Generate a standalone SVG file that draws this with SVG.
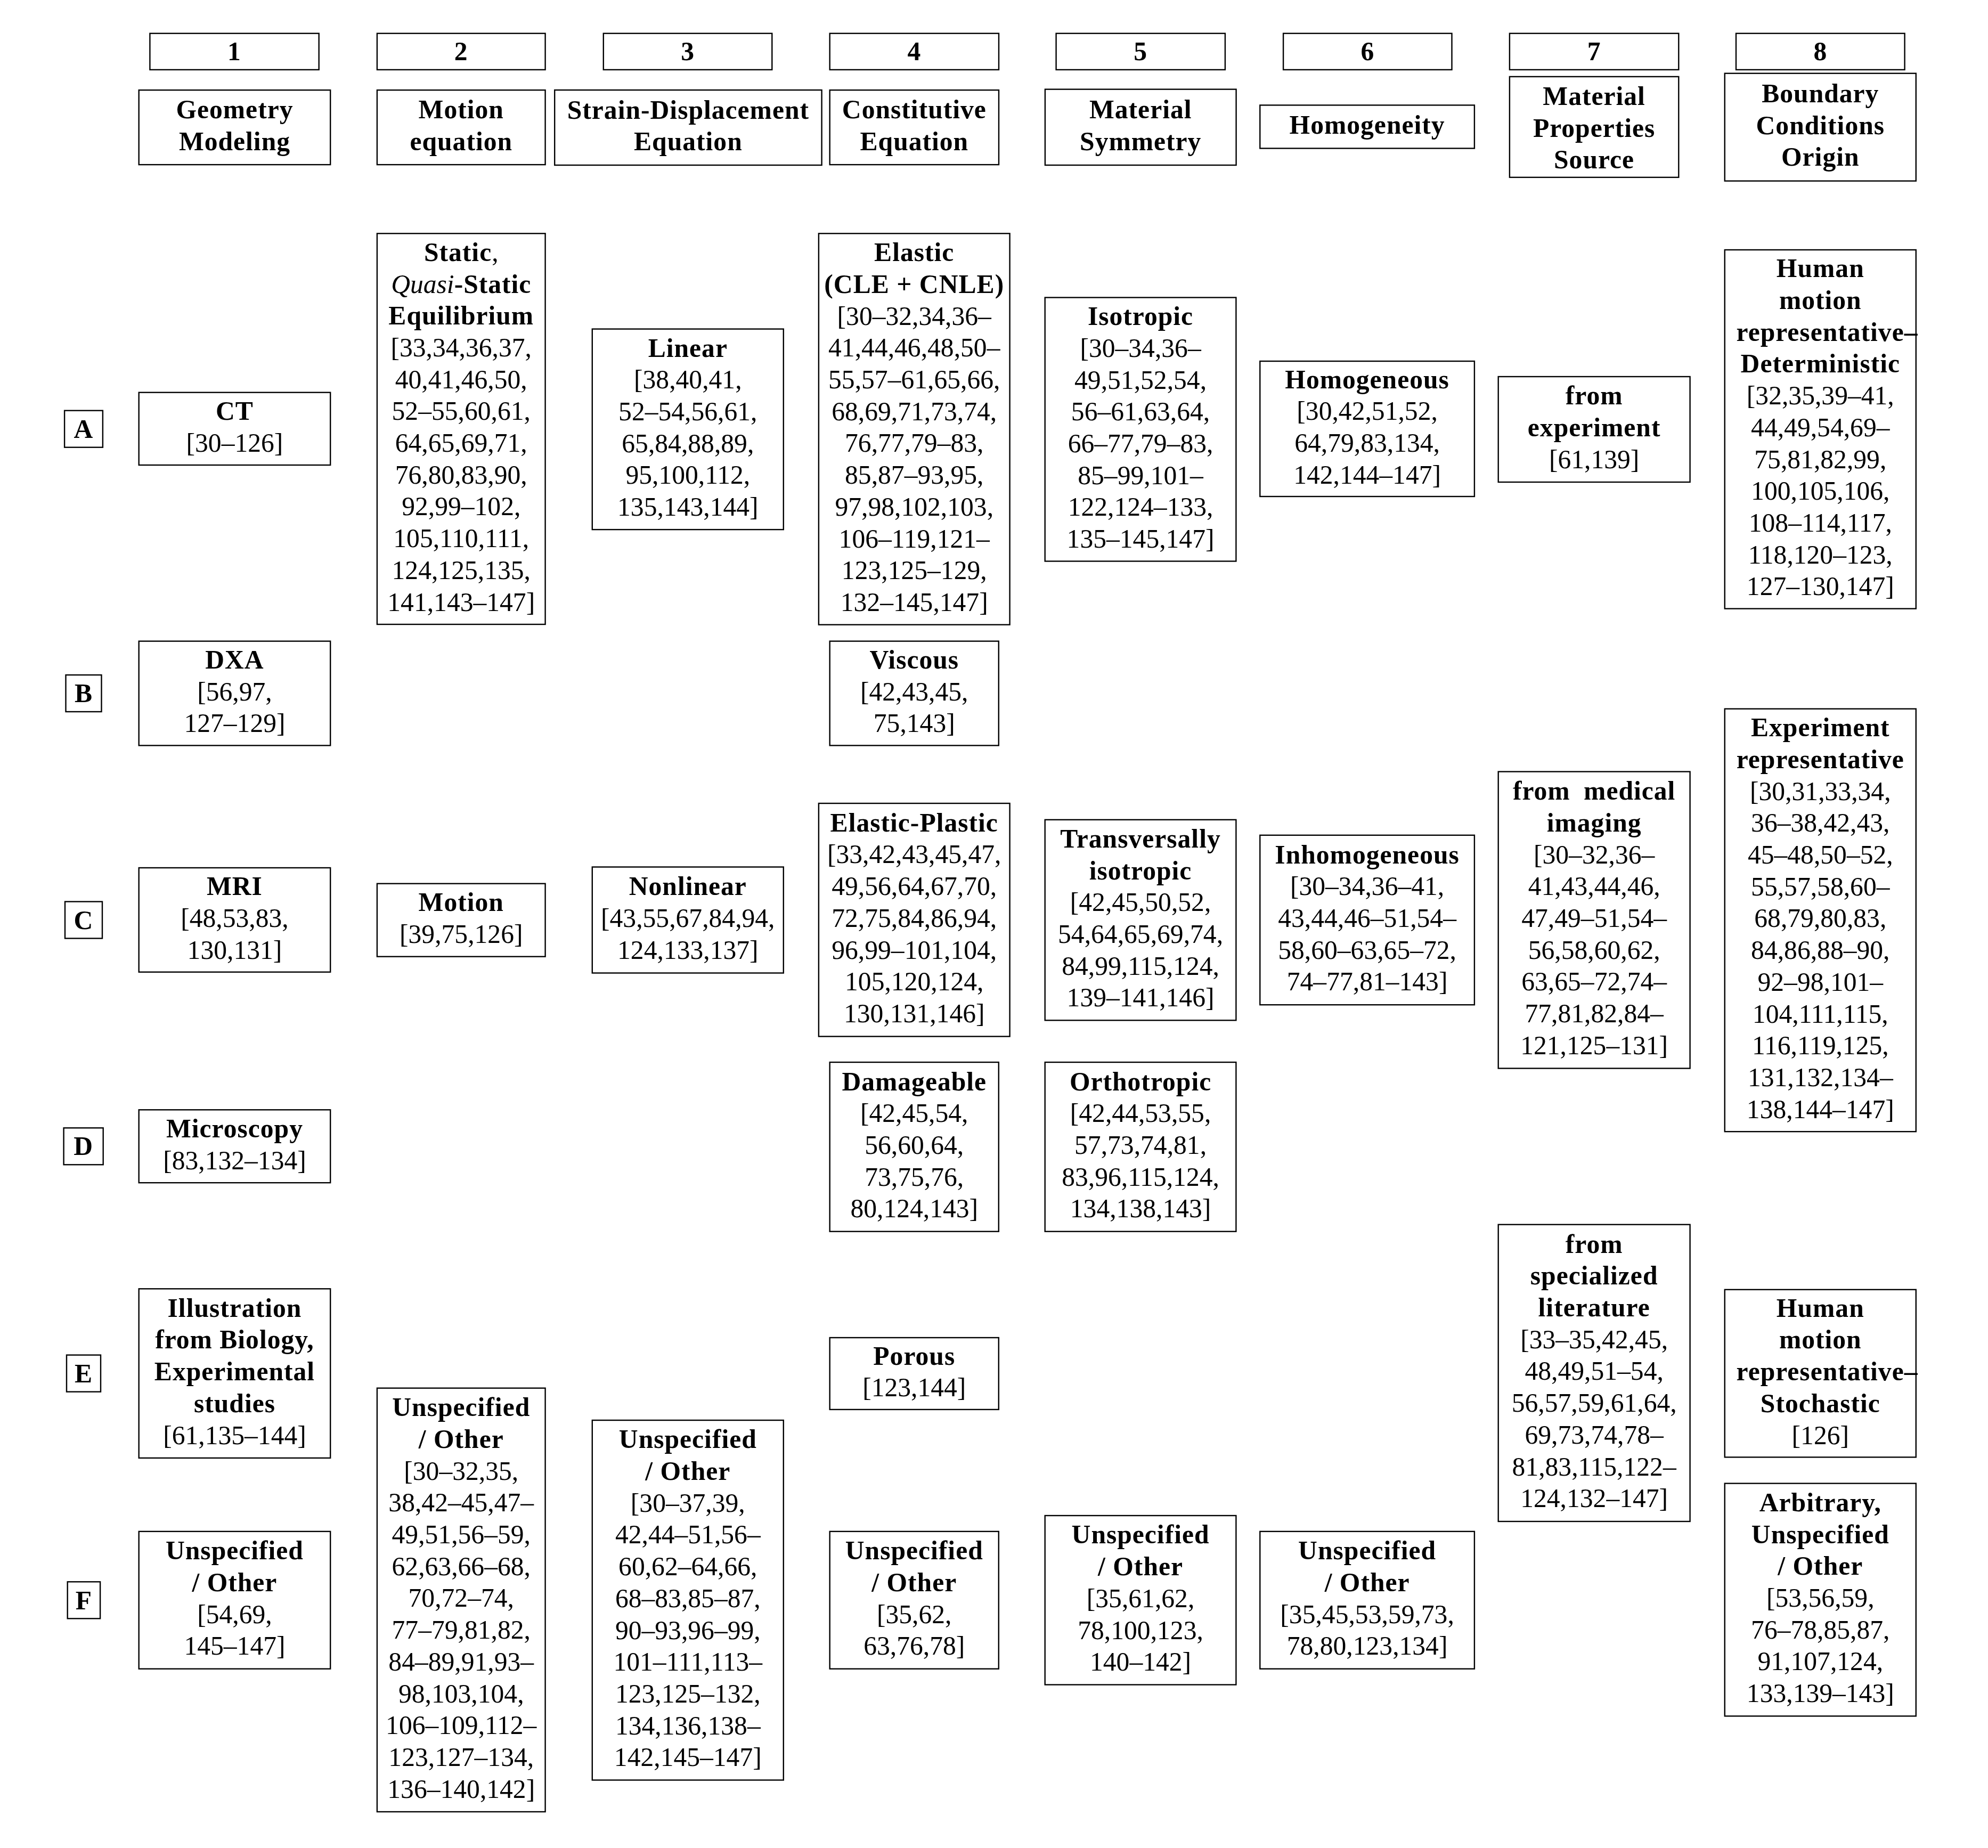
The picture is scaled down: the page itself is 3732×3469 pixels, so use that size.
<svg xmlns="http://www.w3.org/2000/svg" width="3732" height="3469" viewBox="0 0 3732 3469">
<style>
.bx{fill:#fff;stroke:#000;stroke-width:2.4}
text{font-family:"Liberation Serif","Times New Roman",serif;font-size:49.6px;text-anchor:middle;fill:#000}
.b{font-weight:bold;letter-spacing:1px}
.i{font-style:italic}
</style>
<rect width="3732" height="3469" fill="#fff"/>
<g id="col-numbers">
<g id="h1"><rect class="bx" x="281.4" y="62.7" width="317.3" height="68.2"/><text class="b" x="440" y="113">1</text></g>
<g id="h2"><rect class="bx" x="707.9" y="62.7" width="315.7" height="68.2"/><text class="b" x="865.75" y="113">2</text></g>
<g id="h3"><rect class="bx" x="1132.8" y="62.7" width="316.5" height="68.2"/><text class="b" x="1291.05" y="113">3</text></g>
<g id="h4"><rect class="bx" x="1557.7" y="62.7" width="317.3" height="68.2"/><text class="b" x="1716.35" y="113">4</text></g>
<g id="h5"><rect class="bx" x="1982.6" y="62.7" width="317.3" height="68.2"/><text class="b" x="2141.25" y="113">5</text></g>
<g id="h6"><rect class="bx" x="2409.1" y="62.7" width="316.4" height="68.2"/><text class="b" x="2567.3" y="113">6</text></g>
<g id="h7"><rect class="bx" x="2833.9" y="62.7" width="317.4" height="68.2"/><text class="b" x="2992.6" y="113">7</text></g>
<g id="h8"><rect class="bx" x="3259" y="62.7" width="316.6" height="68.2"/><text class="b" x="3417.3" y="113">8</text></g>
</g>
<g id="col-headers">
<g id="c1"><rect class="bx" x="260.7" y="169.1" width="359.5" height="140"/><text class="b"><tspan x="440.45" y="222.3">Geometry</tspan><tspan x="440.45" y="282">Modeling</tspan></text></g>
<g id="c2"><rect class="bx" x="707.9" y="169.1" width="315.7" height="140"/><text class="b"><tspan x="865.75" y="222.3">Motion</tspan><tspan x="865.75" y="282">equation</tspan></text></g>
<g id="c3"><rect class="bx" x="1041.2" y="169" width="501.4" height="141"/><text class="b"><tspan x="1291.9" y="222.6">Strain-Displacement</tspan><tspan x="1291.9" y="282.3">Equation</tspan></text></g>
<g id="c4"><rect class="bx" x="1557.7" y="169.1" width="317.3" height="140"/><text class="b"><tspan x="1716.35" y="222.3">Constitutive</tspan><tspan x="1716.35" y="282">Equation</tspan></text></g>
<g id="c5"><rect class="bx" x="1961.9" y="167.6" width="358.7" height="142.4"/><text class="b"><tspan x="2141.25" y="222">Material</tspan><tspan x="2141.25" y="281.7">Symmetry</tspan></text></g>
<g id="c6"><rect class="bx" x="2365.3" y="197.4" width="402.6" height="81.1"/><text class="b" x="2566.6" y="251">Homogeneity</text></g>
<g id="c7"><rect class="bx" x="2833.9" y="143.9" width="317.4" height="189"/><text class="b"><tspan x="2992.6" y="197">Material</tspan><tspan x="2992.6" y="256.7">Properties</tspan><tspan x="2992.6" y="316.4">Source</tspan></text></g>
<g id="c8"><rect class="bx" x="3237.8" y="137.7" width="359" height="202"/><text class="b"><tspan x="3417.3" y="192">Boundary</tspan><tspan x="3417.3" y="251.7">Conditions</tspan><tspan x="3417.3" y="311.4">Origin</tspan></text></g>
</g>
<g id="row-labels">
<g id="rA"><rect class="bx" x="121.1" y="770.7" width="71.8" height="69"/><text class="b" x="157" y="821.7">A</text></g>
<g id="rB"><rect class="bx" x="123.5" y="1267" width="67" height="69"/><text class="b" x="157" y="1318">B</text></g>
<g id="rC"><rect class="bx" x="122" y="1692.5" width="70" height="69"/><text class="b" x="157" y="1743.7">C</text></g>
<g id="rD"><rect class="bx" x="119.6" y="2117.3" width="74.1" height="69"/><text class="b" x="156.65" y="2168.3">D</text></g>
<g id="rE"><rect class="bx" x="125" y="2543.6" width="64" height="69"/><text class="b" x="157" y="2594.5">E</text></g>
<g id="rF"><rect class="bx" x="126.7" y="2969.3" width="61.4" height="69"/><text class="b" x="157.4" y="3020.6">F</text></g>
</g>
<g id="col1">
<g id="n1A"><rect class="bx" x="260.7" y="736.7" width="359.5" height="136.3"/><text><tspan class="b" x="440.45" y="788">CT</tspan><tspan x="440.45" y="847.7">[30–126]</tspan></text></g>
<g id="n1B"><rect class="bx" x="260.7" y="1203.6" width="359.5" height="195.8"/><text><tspan class="b" x="440.45" y="1254.8">DXA</tspan><tspan x="440.45" y="1314.5">[56,97,</tspan><tspan x="440.45" y="1374.2">127–129]</tspan></text></g>
<g id="n1C"><rect class="bx" x="260.7" y="1629" width="359.5" height="195.7"/><text><tspan class="b" x="440.45" y="1680.2">MRI</tspan><tspan x="440.45" y="1739.9">[48,53,83,</tspan><tspan x="440.45" y="1799.6">130,131]</tspan></text></g>
<g id="n1D"><rect class="bx" x="260.7" y="2083.3" width="359.5" height="136.9"/><text><tspan class="b" x="440.45" y="2134.9">Microscopy</tspan><tspan x="440.45" y="2194.6">[83,132–134]</tspan></text></g>
<g id="n1E"><rect class="bx" x="260.7" y="2419.3" width="359.5" height="317.6"/><text><tspan class="b" x="440.45" y="2471.7">Illustration</tspan><tspan class="b" x="440.45" y="2531.4">from Biology,</tspan><tspan class="b" x="440.45" y="2591.1">Experimental</tspan><tspan class="b" x="440.45" y="2650.8">studies</tspan><tspan x="440.45" y="2710.5">[61,135–144]</tspan></text></g>
<g id="n1F"><rect class="bx" x="260.7" y="2874.8" width="359.5" height="257.9"/><text><tspan class="b" x="440.45" y="2927.2">Unspecified</tspan><tspan class="b" x="440.45" y="2986.9">/ Other</tspan><tspan x="440.45" y="3046.6">[54,69,</tspan><tspan x="440.45" y="3106.3">145–147]</tspan></text></g>
</g>
<g id="col2">
<g id="n2A"><rect class="bx" x="707.9" y="438.3" width="315.7" height="733.7"/><text><tspan class="b" x="865.75" y="489.8">Static</tspan><tspan>,</tspan><tspan class="i" x="865.75" y="549.5">Quasi</tspan><tspan class="b">-Static</tspan><tspan class="b" x="865.75" y="609.2">Equilibrium</tspan><tspan x="865.75" y="668.9">[33,34,36,37,</tspan><tspan x="865.75" y="728.6">40,41,46,50,</tspan><tspan x="865.75" y="788.3">52–55,60,61,</tspan><tspan x="865.75" y="848">64,65,69,71,</tspan><tspan x="865.75" y="907.7">76,80,83,90,</tspan><tspan x="865.75" y="967.4">92,99–102,</tspan><tspan x="865.75" y="1027.1">105,110,111,</tspan><tspan x="865.75" y="1086.8">124,125,135,</tspan><tspan x="865.75" y="1146.5">141,143–147]</tspan></text></g>
<g id="n2C"><rect class="bx" x="707.9" y="1658.7" width="315.7" height="137"/><text><tspan class="b" x="865.75" y="1710.4">Motion</tspan><tspan x="865.75" y="1770.1">[39,75,126]</tspan></text></g>
<g id="n2F"><rect class="bx" x="707.9" y="2605.7" width="315.7" height="795.3"/><text><tspan class="b" x="865.75" y="2658.2">Unspecified</tspan><tspan class="b" x="865.75" y="2717.9">/ Other</tspan><tspan x="865.75" y="2777.6">[30–32,35,</tspan><tspan x="865.75" y="2837.3">38,42–45,47–</tspan><tspan x="865.75" y="2897">49,51,56–59,</tspan><tspan x="865.75" y="2956.7">62,63,66–68,</tspan><tspan x="865.75" y="3016.4">70,72–74,</tspan><tspan x="865.75" y="3076.1">77–79,81,82,</tspan><tspan x="865.75" y="3135.8">84–89,91,93–</tspan><tspan x="865.75" y="3195.5">98,103,104,</tspan><tspan x="865.75" y="3255.2">106–109,112–</tspan><tspan x="865.75" y="3314.9">123,127–134,</tspan><tspan x="865.75" y="3374.6">136–140,142]</tspan></text></g>
</g>
<g id="col3">
<g id="n3A"><rect class="bx" x="1111.8" y="617.6" width="359" height="376.5"/><text><tspan class="b" x="1291.3" y="669.6">Linear</tspan><tspan x="1291.3" y="729.3">[38,40,41,</tspan><tspan x="1291.3" y="789">52–54,56,61,</tspan><tspan x="1291.3" y="848.7">65,84,88,89,</tspan><tspan x="1291.3" y="908.4">95,100,112,</tspan><tspan x="1291.3" y="968.1">135,143,144]</tspan></text></g>
<g id="n3C"><rect class="bx" x="1111.8" y="1627.5" width="359" height="199"/><text><tspan class="b" x="1291.3" y="1680.3">Nonlinear</tspan><tspan x="1291.3" y="1740">[43,55,67,84,94,</tspan><tspan x="1291.3" y="1799.7">124,133,137]</tspan></text></g>
<g id="n3F"><rect class="bx" x="1111.8" y="2666" width="359" height="675.5"/><text><tspan class="b" x="1291.3" y="2718.3">Unspecified</tspan><tspan class="b" x="1291.3" y="2778">/ Other</tspan><tspan x="1291.3" y="2837.7">[30–37,39,</tspan><tspan x="1291.3" y="2897.4">42,44–51,56–</tspan><tspan x="1291.3" y="2957.1">60,62–64,66,</tspan><tspan x="1291.3" y="3016.8">68–83,85–87,</tspan><tspan x="1291.3" y="3076.5">90–93,96–99,</tspan><tspan x="1291.3" y="3136.2">101–111,113–</tspan><tspan x="1291.3" y="3195.9">123,125–132,</tspan><tspan x="1291.3" y="3255.6">134,136,138–</tspan><tspan x="1291.3" y="3315.3">142,145–147]</tspan></text></g>
</g>
<g id="col4">
<g id="n4A"><rect class="bx" x="1536.9" y="438.3" width="358.7" height="734.4"/><text><tspan class="b" x="1716.25" y="490.2">Elastic</tspan><tspan class="b" x="1716.25" y="549.9">(CLE + CNLE)</tspan><tspan x="1716.25" y="609.6">[30–32,34,36–</tspan><tspan x="1716.25" y="669.3">41,44,46,48,50–</tspan><tspan x="1716.25" y="729">55,57–61,65,66,</tspan><tspan x="1716.25" y="788.7">68,69,71,73,74,</tspan><tspan x="1716.25" y="848.4">76,77,79–83,</tspan><tspan x="1716.25" y="908.1">85,87–93,95,</tspan><tspan x="1716.25" y="967.8">97,98,102,103,</tspan><tspan x="1716.25" y="1027.5">106–119,121–</tspan><tspan x="1716.25" y="1087.2">123,125–129,</tspan><tspan x="1716.25" y="1146.9">132–145,147]</tspan></text></g>
<g id="n4B"><rect class="bx" x="1557.7" y="1203.6" width="317.1" height="195.8"/><text><tspan class="b" x="1716.25" y="1254.8">Viscous</tspan><tspan x="1716.25" y="1314.5">[42,43,45,</tspan><tspan x="1716.25" y="1374.2">75,143]</tspan></text></g>
<g id="n4C"><rect class="bx" x="1536.9" y="1508" width="358.7" height="437.6"/><text><tspan class="b" x="1716.25" y="1560.7">Elastic-Plastic</tspan><tspan x="1716.25" y="1620.4">[33,42,43,45,47,</tspan><tspan x="1716.25" y="1680.1">49,56,64,67,70,</tspan><tspan x="1716.25" y="1739.8">72,75,84,86,94,</tspan><tspan x="1716.25" y="1799.5">96,99–101,104,</tspan><tspan x="1716.25" y="1859.2">105,120,124,</tspan><tspan x="1716.25" y="1918.9">130,131,146]</tspan></text></g>
<g id="n4D"><rect class="bx" x="1557.7" y="1994" width="317.1" height="317.7"/><text><tspan class="b" x="1716.25" y="2046.5">Damageable</tspan><tspan x="1716.25" y="2106.2">[42,45,54,</tspan><tspan x="1716.25" y="2165.9">56,60,64,</tspan><tspan x="1716.25" y="2225.6">73,75,76,</tspan><tspan x="1716.25" y="2285.3">80,124,143]</tspan></text></g>
<g id="n4E"><rect class="bx" x="1557.7" y="2511" width="317.1" height="134.9"/><text><tspan class="b" x="1716.25" y="2561.6">Porous</tspan><tspan x="1716.25" y="2621.3">[123,144]</tspan></text></g>
<g id="n4F"><rect class="bx" x="1557.7" y="2874.8" width="317.1" height="257.9"/><text><tspan class="b" x="1716.25" y="2927.2">Unspecified</tspan><tspan class="b" x="1716.25" y="2986.9">/ Other</tspan><tspan x="1716.25" y="3046.6">[35,62,</tspan><tspan x="1716.25" y="3106.3">63,76,78]</tspan></text></g>
</g>
<g id="col5">
<g id="n5A"><rect class="bx" x="1961.7" y="558.5" width="358.7" height="495"/><text><tspan class="b" x="2141.05" y="610.1">Isotropic</tspan><tspan x="2141.05" y="669.8">[30–34,36–</tspan><tspan x="2141.05" y="729.5">49,51,52,54,</tspan><tspan x="2141.05" y="789.2">56–61,63,64,</tspan><tspan x="2141.05" y="848.9">66–77,79–83,</tspan><tspan x="2141.05" y="908.6">85–99,101–</tspan><tspan x="2141.05" y="968.3">122,124–133,</tspan><tspan x="2141.05" y="1028">135–145,147]</tspan></text></g>
<g id="n5C"><rect class="bx" x="1961.7" y="1538.8" width="358.7" height="376.5"/><text><tspan class="b" x="2141.05" y="1590.8">Transversally</tspan><tspan class="b" x="2141.05" y="1650.5">isotropic</tspan><tspan x="2141.05" y="1710.2">[42,45,50,52,</tspan><tspan x="2141.05" y="1769.9">54,64,65,69,74,</tspan><tspan x="2141.05" y="1829.6">84,99,115,124,</tspan><tspan x="2141.05" y="1889.3">139–141,146]</tspan></text></g>
<g id="n5D"><rect class="bx" x="1961.7" y="1994" width="358.7" height="317.7"/><text><tspan class="b" x="2141.05" y="2046.5">Orthotropic</tspan><tspan x="2141.05" y="2106.2">[42,44,53,55,</tspan><tspan x="2141.05" y="2165.9">57,73,74,81,</tspan><tspan x="2141.05" y="2225.6">83,96,115,124,</tspan><tspan x="2141.05" y="2285.3">134,138,143]</tspan></text></g>
<g id="n5F"><rect class="bx" x="1961.7" y="2845" width="358.7" height="317.5"/><text><tspan class="b" x="2141.05" y="2897.4">Unspecified</tspan><tspan class="b" x="2141.05" y="2957.1">/ Other</tspan><tspan x="2141.05" y="3016.8">[35,61,62,</tspan><tspan x="2141.05" y="3076.5">78,100,123,</tspan><tspan x="2141.05" y="3136.2">140–142]</tspan></text></g>
</g>
<g id="col6">
<g id="n6A"><rect class="bx" x="2365.3" y="678" width="402.6" height="254"/><text><tspan class="b" x="2566.6" y="728.5">Homogeneous</tspan><tspan x="2566.6" y="788.2">[30,42,51,52,</tspan><tspan x="2566.6" y="847.9">64,79,83,134,</tspan><tspan x="2566.6" y="907.6">142,144–147]</tspan></text></g>
<g id="n6C"><rect class="bx" x="2365.3" y="1567.8" width="402.6" height="318.4"/><text><tspan class="b" x="2566.6" y="1620.6">Inhomogeneous</tspan><tspan x="2566.6" y="1680.3">[30–34,36–41,</tspan><tspan x="2566.6" y="1740">43,44,46–51,54–</tspan><tspan x="2566.6" y="1799.7">58,60–63,65–72,</tspan><tspan x="2566.6" y="1859.4">74–77,81–143]</tspan></text></g>
<g id="n6F"><rect class="bx" x="2365.3" y="2874.8" width="402.6" height="257.9"/><text><tspan class="b" x="2566.6" y="2927.2">Unspecified</tspan><tspan class="b" x="2566.6" y="2986.9">/ Other</tspan><tspan x="2566.6" y="3046.6">[35,45,53,59,73,</tspan><tspan x="2566.6" y="3106.3">78,80,123,134]</tspan></text></g>
</g>
<g id="col7">
<g id="n7A"><rect class="bx" x="2812.7" y="707" width="359.9" height="198"/><text><tspan class="b" x="2992.65" y="759.3">from</tspan><tspan class="b" x="2992.65" y="819">experiment</tspan><tspan x="2992.65" y="878.7">[61,139]</tspan></text></g>
<g id="n7C"><rect class="bx" x="2812.7" y="1448.5" width="359.9" height="557"/><text><tspan class="b" x="2992.65" y="1501.2" word-spacing="12">from medical</tspan><tspan class="b" x="2992.65" y="1560.9">imaging</tspan><tspan x="2992.65" y="1620.6">[30–32,36–</tspan><tspan x="2992.65" y="1680.3">41,43,44,46,</tspan><tspan x="2992.65" y="1740">47,49–51,54–</tspan><tspan x="2992.65" y="1799.7">56,58,60,62,</tspan><tspan x="2992.65" y="1859.4">63,65–72,74–</tspan><tspan x="2992.65" y="1919.1">77,81,82,84–</tspan><tspan x="2992.65" y="1978.8">121,125–131]</tspan></text></g>
<g id="n7E"><rect class="bx" x="2812.7" y="2298.7" width="359.9" height="557.3"/><text><tspan class="b" x="2992.65" y="2351.6">from</tspan><tspan class="b" x="2992.65" y="2411.3">specialized</tspan><tspan class="b" x="2992.65" y="2471">literature</tspan><tspan x="2992.65" y="2530.7">[33–35,42,45,</tspan><tspan x="2992.65" y="2590.4">48,49,51–54,</tspan><tspan x="2992.65" y="2650.1">56,57,59,61,64,</tspan><tspan x="2992.65" y="2709.8">69,73,74,78–</tspan><tspan x="2992.65" y="2769.5">81,83,115,122–</tspan><tspan x="2992.65" y="2829.2">124,132–147]</tspan></text></g>
</g>
<g id="col8">
<g id="n8A"><rect class="bx" x="3237.8" y="469" width="359" height="673.6"/><text><tspan class="b" x="3417.3" y="520.3">Human</tspan><tspan class="b" x="3417.3" y="580">motion</tspan><tspan class="b" x="3430" y="639.7">representative–</tspan><tspan class="b" x="3417.3" y="699.4">Deterministic</tspan><tspan x="3417.3" y="759.1">[32,35,39–41,</tspan><tspan x="3417.3" y="818.8">44,49,54,69–</tspan><tspan x="3417.3" y="878.5">75,81,82,99,</tspan><tspan x="3417.3" y="938.2">100,105,106,</tspan><tspan x="3417.3" y="997.9">108–114,117,</tspan><tspan x="3417.3" y="1057.6">118,120–123,</tspan><tspan x="3417.3" y="1117.3">127–130,147]</tspan></text></g>
<g id="n8C"><rect class="bx" x="3237.8" y="1330.6" width="359" height="793.6"/><text><tspan class="b" x="3417.3" y="1382.2">Experiment</tspan><tspan class="b" x="3417.3" y="1441.9">representative</tspan><tspan x="3417.3" y="1501.6">[30,31,33,34,</tspan><tspan x="3417.3" y="1561.3">36–38,42,43,</tspan><tspan x="3417.3" y="1621">45–48,50–52,</tspan><tspan x="3417.3" y="1680.7">55,57,58,60–</tspan><tspan x="3417.3" y="1740.4">68,79,80,83,</tspan><tspan x="3417.3" y="1800.1">84,86,88–90,</tspan><tspan x="3417.3" y="1859.8">92–98,101–</tspan><tspan x="3417.3" y="1919.5">104,111,115,</tspan><tspan x="3417.3" y="1979.2">116,119,125,</tspan><tspan x="3417.3" y="2038.9">131,132,134–</tspan><tspan x="3417.3" y="2098.6">138,144–147]</tspan></text></g>
<g id="n8E"><rect class="bx" x="3237.8" y="2420.8" width="359" height="314.6"/><text><tspan class="b" x="3417.3" y="2471.7">Human</tspan><tspan class="b" x="3417.3" y="2531.4">motion</tspan><tspan class="b" x="3430" y="2591.1">representative–</tspan><tspan class="b" x="3417.3" y="2650.8">Stochastic</tspan><tspan x="3417.3" y="2710.5">[126]</tspan></text></g>
<g id="n8F"><rect class="bx" x="3237.8" y="2784.6" width="359" height="436.8"/><text><tspan class="b" x="3417.3" y="2836.9">Arbitrary,</tspan><tspan class="b" x="3417.3" y="2896.6">Unspecified</tspan><tspan class="b" x="3417.3" y="2956.3">/ Other</tspan><tspan x="3417.3" y="3016">[53,56,59,</tspan><tspan x="3417.3" y="3075.7">76–78,85,87,</tspan><tspan x="3417.3" y="3135.4">91,107,124,</tspan><tspan x="3417.3" y="3195.1">133,139–143]</tspan></text></g>
</g>
</svg>
